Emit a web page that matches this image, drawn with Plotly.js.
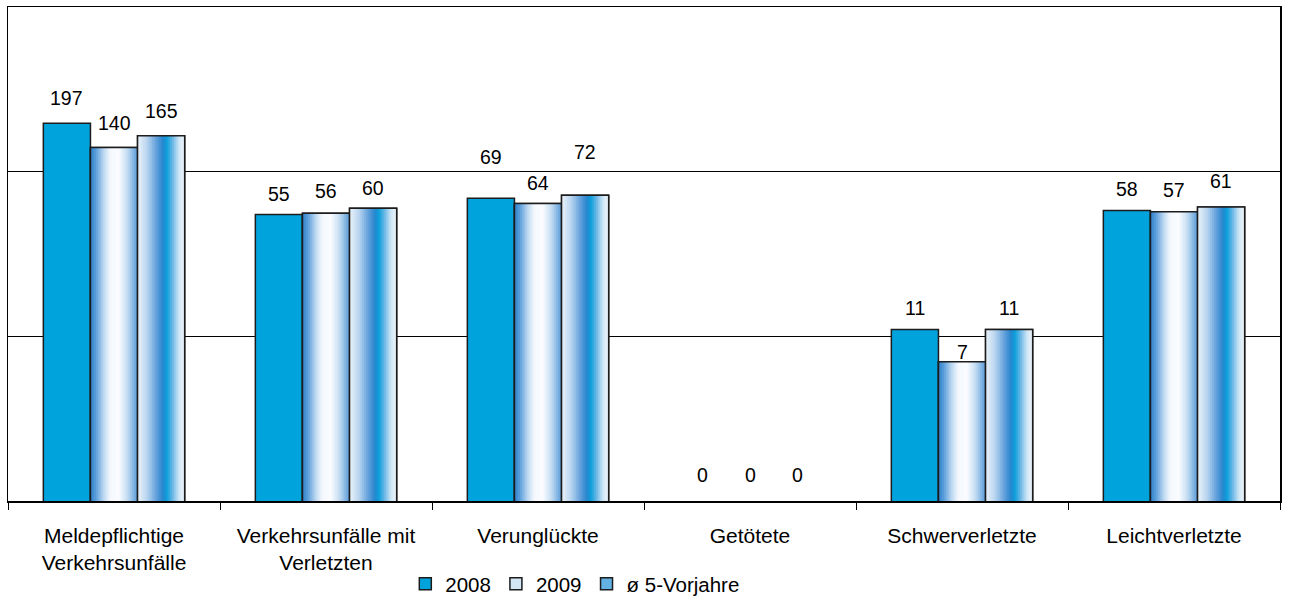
<!DOCTYPE html>
<html>
<head>
<meta charset="utf-8">
<script src="https://cdn.plot.ly/plotly-3.0.1.min.js"></script>
<style>
  html, body { margin: 0; padding: 0; background: #fff; }
  #chart { width: 1289px; height: 601px; }
</style>
</head>
<body>
<div id="chart"></div>
<script>
// Verkehrsunfallstatistik: 2008, 2009 und Durchschnitt der 5 Vorjahre
const categories = [
  'Meldepflichtige<br>Verkehrsunfälle',
  'Verkehrsunfälle mit<br>Verletzten',
  'Verunglückte',
  'Getötete',
  'Schwerverletzte',
  'Leichtverletzte'
];
const values2008 = [197, 55, 69, 0, 11, 58];
const values2009 = [140, 56, 64, 0, 7, 57];
const valuesAvg = [165, 60, 72, 0, 11, 61];
const seriesNames = ['2008', '2009', 'ø 5-Vorjahre'];

// ---- styling ----
const FONT = 'Liberation Sans, Arial, sans-serif';
const BAR_W = 0.2222;
const OFFSETS = [-0.3333, -0.1111, 0.1111];
const BORDER = { color: '#1c1c1c', width: 1.5 };
const SLICES = 26;

// vertical distance (px) of each value label above its bar top
const labelLift = [
  [25, 20, 41, 26, 22, 22],
  [25, 22, 21, 26, 10, 22],
  [25, 20, 43, 26, 22, 26]
];

// horizontal colour ramps for the shaded bars: [t, r, g, b]
const ramp2009 = [
  [0.00, 46, 128, 202], [0.12, 95, 160, 221], [0.28, 188, 216, 241],
  [0.42, 244, 249, 254], [0.60, 250, 252, 255], [0.78, 198, 222, 243],
  [1.00, 88, 155, 217]
];
const rampAvg = [
  [0.00, 236, 244, 251], [0.20, 185, 213, 239], [0.42, 90, 155, 217],
  [0.54, 38, 134, 205], [0.62, 10, 160, 220], [0.74, 105, 182, 230],
  [0.88, 208, 230, 246], [1.00, 238, 245, 252]
];

function rampColor(stops, t) {
  for (let i = 1; i < stops.length; i++) {
    if (t <= stops[i][0]) {
      const a = stops[i - 1], b = stops[i];
      const f = (t - a[0]) / (b[0] - a[0]);
      const c = [1, 2, 3].map(k => Math.round(a[k] + (b[k] - a[k]) * f));
      return `rgb(${c[0]},${c[1]},${c[2]})`;
    }
  }
  const l = stops[stops.length - 1];
  return `rgb(${l[1]},${l[2]},${l[3]})`;
}

const traces = [];

// base bars (solid fill + outline), also used for the legend
const baseFill = ['#00a3dc', '#d3e6f6', '#63b0e3'];
[values2008, values2009, valuesAvg].forEach((vals, s) => {
  traces.push({
    type: 'bar', x: categories, y: vals, name: seriesNames[s],
    offset: OFFSETS[s], width: BAR_W,
    marker: { color: baseFill[s], line: BORDER },
    hoverinfo: 'skip'
  });
});

// shaded interiors, built from thin adjacent slices of the same bars
function addShading(vals, s, stops) {
  const step = BAR_W / SLICES;
  for (let i = 0; i < SLICES; i++) {
    const w = i < SLICES - 1 ? step * 1.6 : step;
    traces.push({
      type: 'bar', x: categories, y: vals, showlegend: false,
      offset: OFFSETS[s] + i * step, width: w,
      marker: { color: rampColor(stops, (i + 0.5) / SLICES), line: { width: 0 } },
      hoverinfo: 'skip'
    });
  }
  // outline on top of the shading
  traces.push({
    type: 'bar', x: categories, y: vals, showlegend: false,
    offset: OFFSETS[s], width: BAR_W,
    marker: { color: 'rgba(0,0,0,0)', line: BORDER },
    hoverinfo: 'skip'
  });
}
addShading(values2009, 1, ramp2009);
addShading(valuesAvg, 2, rampAvg);

// value labels
const annotations = [];
[values2008, values2009, valuesAvg].forEach((vals, s) => {
  vals.forEach((v, i) => {
    annotations.push({
      x: i + OFFSETS[s] + BAR_W / 2, xref: 'x',
      y: Math.log10(Math.max(v, 1)), yref: 'y',
      text: String(v), showarrow: false,
      xanchor: 'center', yanchor: 'middle',
      yshift: labelLift[s][i],
      font: { family: FONT, size: 19.5, color: '#000' }
    });
  });
});

const layout = {
  width: 1289, height: 601,
  margin: { l: 8, r: 9, t: 7, b: 100, autoexpand: false },
  paper_bgcolor: '#fff', plot_bgcolor: '#fff',
  barmode: 'overlay',
  font: { family: FONT, size: 20, color: '#000' },
  showlegend: true,
  legend: {
    orientation: 'h', x: 0.446, xanchor: 'center',
    y: -0.168, yanchor: 'middle',
    font: { family: FONT, size: 20.5, color: '#000' },
    bgcolor: 'rgba(0,0,0,0)', traceorder: 'normal'
  },
  xaxis: {
    type: 'category', range: [-0.5, 5.5],
    showline: true, mirror: true, linecolor: '#000', linewidth: 1.5,
    ticks: 'outside', tickson: 'boundaries', ticklen: 7,
    tickcolor: '#000', tickwidth: 1, ticklabelstandoff: 15,
    showgrid: false, zeroline: false,
    tickfont: { family: FONT, size: 21, color: '#000' },
    automargin: false
  },
  yaxis: {
    type: 'log', range: [0, 3],
    tickvals: [10, 100], showticklabels: false, ticks: '',
    showgrid: true, gridcolor: '#000', gridwidth: 1,
    showline: true, mirror: true, linecolor: '#000', linewidth: 1.5,
    zeroline: false, automargin: false
  },
  annotations: annotations
};

Plotly.newPlot('chart', traces, layout, { displayModeBar: false, staticPlot: true });
</script>
</body>
</html>
